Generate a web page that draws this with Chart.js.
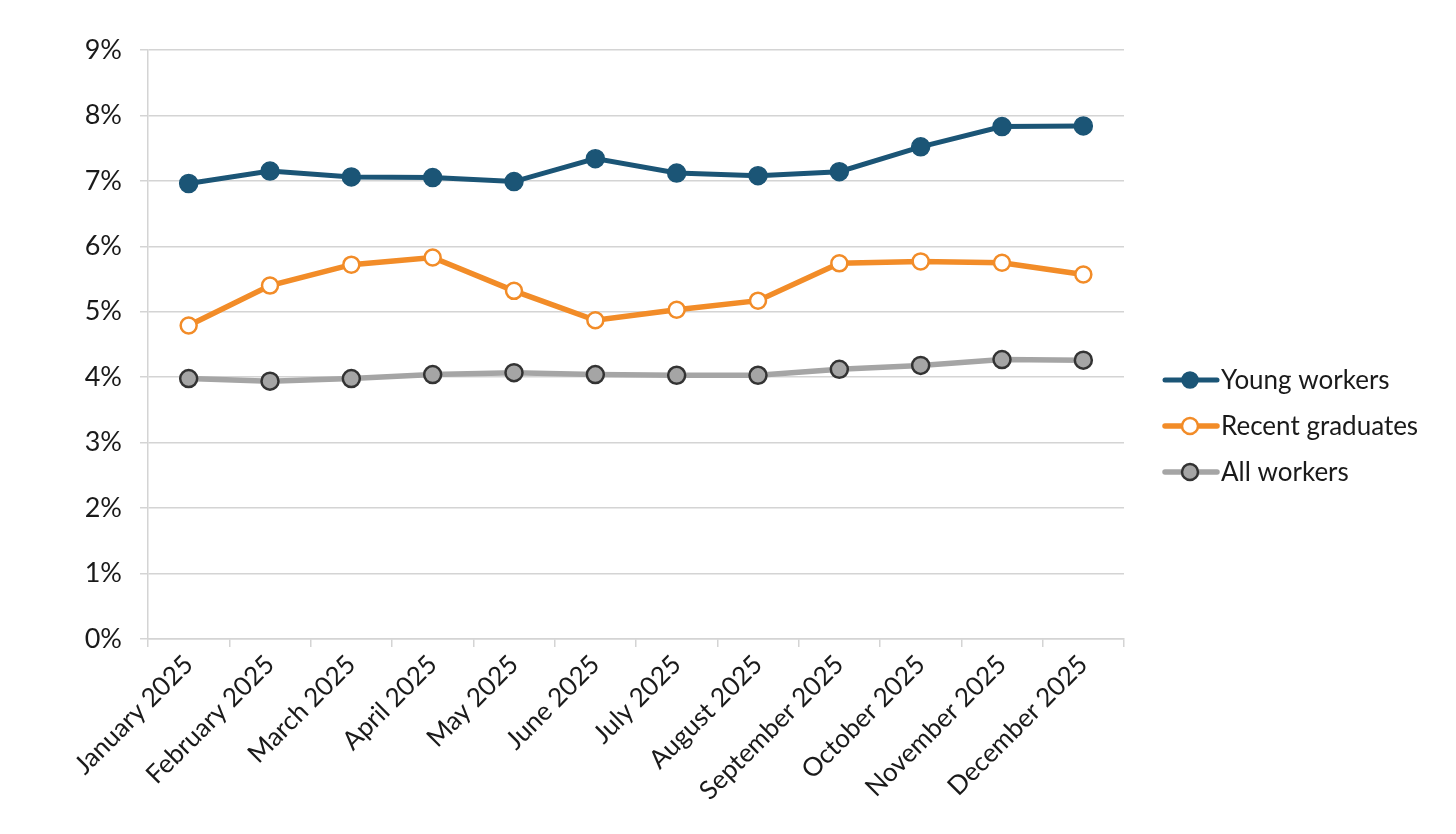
<!DOCTYPE html>
<html>
<head>
<meta charset="utf-8">
<script src="https://cdn.jsdelivr.net/npm/chart.js@4/dist/chart.umd.min.js"></script>
<style>
  html, body { margin: 0; padding: 0; background: #ffffff; }
  #wrap { width: 1456px; height: 834px; position: relative; }
</style>
</head>
<body>
<div id="wrap"><canvas id="c"></canvas></div>
<script>
const categories = ["January 2025", "February 2025", "March 2025", "April 2025", "May 2025", "June 2025",
  "July 2025", "August 2025", "September 2025", "October 2025", "November 2025", "December 2025"];
const youngWorkers = [6.96, 7.15, 7.06, 7.05, 6.99, 7.34, 7.12, 7.08, 7.14, 7.52, 7.83, 7.84];
const recentGraduates = [4.79, 5.40, 5.72, 5.83, 5.32, 4.87, 5.03, 5.17, 5.74, 5.77, 5.75, 5.57];
const allWorkers = [3.98, 3.94, 3.98, 4.04, 4.07, 4.04, 4.03, 4.03, 4.12, 4.18, 4.27, 4.26];
const seriesNames = ["Young workers", "Recent graduates", "All workers"];
const yTicks = [0, 1, 2, 3, 4, 5, 6, 7, 8, 9];

const FONT = "Lato, 'Noto Sans', sans-serif";
const GRID = "#d4d4d4";

const legendPlugin = {
  id: "customLegend",
  afterDraw(chart) {
    const ctx = chart.ctx;
    const x0 = 1165, x1 = 1217, mx = 1190, tx = 1221;
    const rows = [380, 426, 472];
    chart.data.datasets.forEach((ds, i) => {
      const y = rows[i];
      ctx.save();
      ctx.strokeStyle = ds.borderColor;
      ctx.lineWidth = ds.borderWidth;
      ctx.lineCap = "round";
      ctx.beginPath();
      ctx.moveTo(x0, y); ctx.lineTo(x1, y);
      ctx.stroke();
      ctx.beginPath();
      ctx.arc(mx, y, 8, 0, Math.PI * 2);
      ctx.fillStyle = ds.pointBackgroundColor;
      ctx.fill();
      ctx.lineWidth = ds.pointBorderWidth;
      ctx.strokeStyle = ds.pointBorderColor;
      ctx.stroke();
      ctx.fillStyle = "#1a1a1a";
      ctx.font = "26px " + FONT;
      ctx.textBaseline = "middle";
      ctx.textAlign = "left";
      ctx.fillText(ds.label, tx, y + 1);
      ctx.restore();
    });
  }
};

new Chart(document.getElementById("c"), {
  type: "line",
  data: {
    labels: categories,
    datasets: [
      {
        label: seriesNames[0], data: youngWorkers,
        borderColor: "#1b5576", borderWidth: 5,
        pointRadius: 9, pointBackgroundColor: "#1b5576", pointBorderColor: "#1b5576", pointBorderWidth: 1.5,
        tension: 0
      },
      {
        label: seriesNames[1], data: recentGraduates,
        borderColor: "#f28c28", borderWidth: 5.5,
        pointRadius: 8, pointBackgroundColor: "#ffffff", pointBorderColor: "#f28c28", pointBorderWidth: 2.5,
        tension: 0
      },
      {
        label: seriesNames[2], data: allWorkers,
        borderColor: "#a5a5a5", borderWidth: 5.5,
        pointRadius: 8.5, pointBackgroundColor: "#a5a5a5", pointBorderColor: "#333333", pointBorderWidth: 2.5,
        tension: 0
      }
    ]
  },
  options: {
    responsive: true,
    maintainAspectRatio: false,
    animation: false,
    layout: { padding: { top: 50, right: 332, bottom: 0, left: 0 } },
    plugins: { legend: { display: false }, tooltip: { enabled: false } },
    scales: {
      x: {
        offset: true,
        afterFit(scale) { scale.height = 195; },
        grid: { display: true, drawOnChartArea: false, offset: true, color: GRID, lineWidth: 1.5, tickLength: 8 },
        border: { display: true, color: GRID, width: 1.5 },
        ticks: {
          color: "#1a1a1a", font: { family: FONT, size: 26 },
          maxRotation: 45, minRotation: 45, autoSkip: false, padding: 2
        }
      },
      y: {
        min: yTicks[0], max: yTicks[yTicks.length - 1],
        afterFit(scale) { scale.width = 148; },
        afterBuildTicks(scale) { scale.ticks = yTicks.map(v => ({ value: v })); },
        grid: { color: GRID, lineWidth: 1.5, tickLength: 8 },
        border: { display: true, color: GRID, width: 1.5 },
        ticks: {
          color: "#1a1a1a", font: { family: FONT, size: 27 }, padding: 18,
          callback: v => v + "%"
        }
      }
    }
  },
  plugins: [legendPlugin]
});
</script>
</body>
</html>
